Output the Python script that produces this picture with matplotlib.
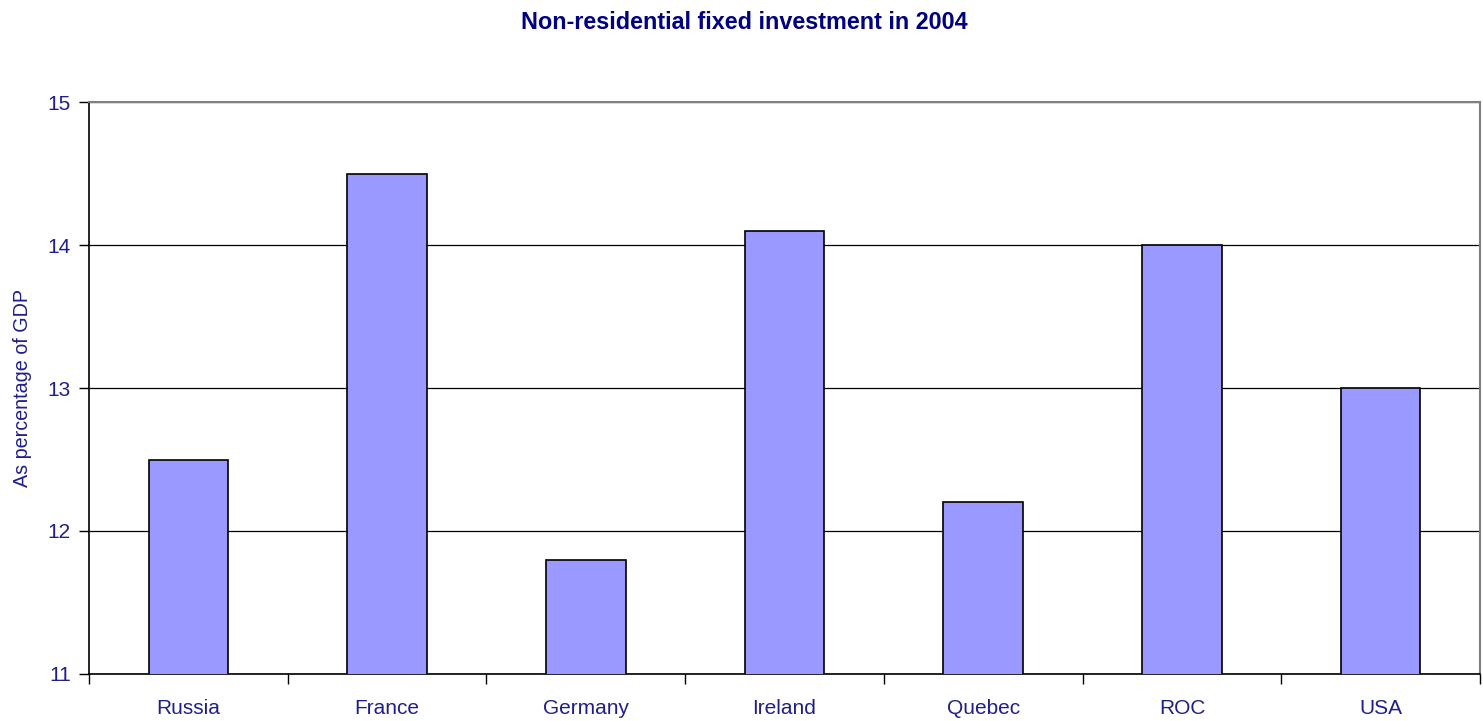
import matplotlib.pyplot as plt
import numpy as np

countries = ["Russia", "France", "Germany", "Ireland", "Quebec", "ROC", "USA"]
investment_pct_gdp = [12.5, 14.5, 11.8, 14.1, 12.2, 14.0, 13.0]

NAVY = "#000080"
LABEL = "#1f1f8a"

plt.rcParams["font.family"] = ["Liberation Sans", "DejaVu Sans"]

fig = plt.figure(figsize=(14.83, 7.21), dpi=100)
ax = fig.add_axes([0.0600, 0.0652, 0.938, 0.7933])

x = np.arange(len(countries))
ax.bar(x, investment_pct_gdp, width=0.4, bottom=0, color="#9999ff",
       edgecolor="black", linewidth=1.2, zorder=3)

ax.set_xlim(-0.5, len(countries) - 0.5)
ax.set_ylim(11, 15)
ax.set_yticks([11, 12, 13, 14, 15])
ax.yaxis.grid(True, color="black", linewidth=0.9, zorder=0)

# tick marks between categories, labels centred under the bars
ax.set_xticks(np.arange(len(countries) + 1) - 0.5)
ax.set_xticklabels([])
ax.set_xticks(x, minor=True)
ax.set_xticklabels(countries, minor=True)
ax.tick_params(axis="x", which="minor", length=0, pad=18,
               labelsize=15, labelcolor=LABEL)
ax.tick_params(axis="x", which="major", length=7, width=1, color="black",
               direction="out")
ax.tick_params(axis="y", length=7, width=1, pad=6, labelsize=15,
               labelcolor=LABEL)

for side in ("top", "right"):
    ax.spines[side].set_color("#808080")
    ax.spines[side].set_linewidth(1.5)
for side in ("left", "bottom"):
    ax.spines[side].set_color("black")
    ax.spines[side].set_linewidth(1.2)

ax.set_ylabel("As percentage of GDP", fontsize=14.2, color=LABEL, labelpad=11)
fig.suptitle("Non-residential fixed investment in 2004", x=0.502, y=0.985,
             fontsize=16.8, fontweight="bold", color=NAVY)

fig.savefig("out.png", dpi=100)
